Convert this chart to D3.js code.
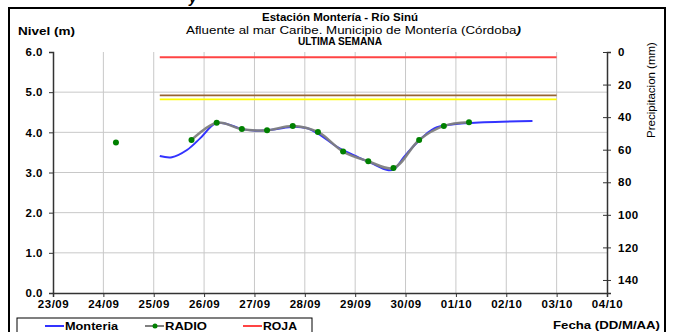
<!DOCTYPE html>
<html><head><meta charset="utf-8">
<script src="https://cdn.jsdelivr.net/npm/d3@7"></script>
<style>body{margin:0;background:#fff}svg{display:block}text{font-family:"Liberation Sans",Arial,sans-serif}</style>
</head><body><svg id="c" width="674" height="332"></svg>
<script>
// ---- data ----
const dateLabels = ["23/09","24/09","25/09","26/09","27/09","28/09","29/09","30/09","01/10","02/10","03/10","04/10"];
const levelTicks = [0,1,2,3,4,5,6];
const precipTicks = [0,20,40,60,80,100,120,140];
// Monteria level series (days since 23/09 00:00, metres)
const monteriaDays = [2.12,2.36,2.66,2.92,3.22,3.45,3.75,4.05,4.38,4.78,5.05,5.31,5.64,5.97,6.31,6.64,6.77,6.97,7.24,7.57,7.96,8.56,9.52];
const monteriaVals = [3.41,3.38,3.56,3.85,4.22,4.21,4.08,4.04,4.07,4.14,4.10,3.93,3.64,3.43,3.24,3.06,3.08,3.39,3.76,4.10,4.20,4.25,4.28];
// RADIO readings (null = no reading)
const radioDays = [1.25,1.75,2.25,2.75,3.25,3.75,4.25,4.76,5.26,5.76,6.26,6.76,7.27,7.76,8.26];
const radioVals = [3.75,null,null,3.81,4.24,4.08,4.05,4.16,4.01,3.52,3.28,3.11,3.81,4.16,4.25];
// threshold levels
const thresholdNames = ["ROJA","NARANJA","AMARILLA"];
const thresholdVals = [5.87,4.92,4.82];
const thresholdColors = ["#ff4444","#996633","#ffff00"];
const thresholdSpan = [2.12,10];

const svg = d3.select("#c");
const L=53,R=607,T=52,B=293;
const x = d3.scaleLinear().domain([0,11]).range([L,R]);
const y = d3.scaleLinear().domain([0,6]).range([B,T]);
const yp = d3.scaleLinear().domain([0,148]).range([T,B]);

// frame
svg.append("rect").attr("x",9).attr("y",8).attr("width",656).attr("height",340)
  .attr("fill","none").attr("stroke","#000").attr("stroke-width",2);
svg.append("text").attr("x",189).attr("y",3).attr("font-size",14).attr("font-weight","bold").attr("font-style","italic").text("y");

// titles
const tc=340;
svg.append("text").attr("x",tc).attr("y",21).attr("text-anchor","middle").attr("font-size",11.5).attr("font-weight","bold")
  .attr("textLength",156).attr("lengthAdjust","spacingAndGlyphs").text("Estación Montería  - Río Sinú");
const t2=svg.append("text").attr("x",186).attr("y",34).attr("font-size",11.5)
  .attr("textLength",335).attr("lengthAdjust","spacingAndGlyphs").text("Afluente al mar Caribe. Municipio de Montería (Córdoba");
t2.append("tspan").attr("font-style","italic").attr("font-weight","bold").text(")");
svg.append("text").attr("x",tc).attr("y",45).attr("text-anchor","middle").attr("font-size",11).attr("font-weight","bold")
  .attr("textLength",84).attr("lengthAdjust","spacingAndGlyphs").text("ULTIMA SEMANA");
svg.append("text").attr("x",18).attr("y",35).attr("font-size",11.5).attr("font-weight","bold")
  .attr("textLength",57).attr("lengthAdjust","spacingAndGlyphs").text("Nivel (m)");

// grid
const g = svg.append("g");
g.selectAll("line.v").data(d3.range(1,11)).enter().append("line")
  .attr("x1",d=>x(d)).attr("x2",d=>x(d)).attr("y1",T).attr("y2",B).attr("stroke","#c8c8c8").attr("stroke-width",1);
g.selectAll("line.h").data([1,2,3,4,5]).enter().append("line")
  .attr("x1",L).attr("x2",R).attr("y1",d=>y(d)).attr("y2",d=>y(d)).attr("stroke","#c8c8c8").attr("stroke-width",1);

// axes
const axL = d3.axisLeft(y).tickValues(levelTicks).tickFormat(d3.format(".1f")).tickSize(4).tickPadding(4);
const axB = d3.axisBottom(x).tickValues(d3.range(0,12)).tickFormat((d,i)=>dateLabels[i]).tickSize(4).tickPadding(3);
const axR = d3.axisRight(yp).tickValues(precipTicks).tickSize(4).tickPadding(7);
function style(sel){sel.select(".domain").attr("stroke","#333").attr("stroke-width",1.5);
  sel.selectAll(".tick line").attr("stroke","#333");
  sel.selectAll("text").attr("font-size",11.5).attr("font-weight","bold").attr("fill","#000")
    .style("letter-spacing","0.5px").style("font-family","Liberation Sans, Arial, sans-serif");}
svg.append("g").attr("transform",`translate(${L},0)`).call(axL).call(style).call(s=>s.selectAll("text").attr("dx",-2));
svg.append("g").attr("transform",`translate(0,${B})`).call(axB).call(style);
const gr = svg.append("g").attr("transform",`translate(${R},0)`).call(axR).call(style);
gr.selectAll(".tick line").attr("x1",-4);
svg.append("text").attr("transform","translate(655,90) rotate(-90)").attr("text-anchor","middle").attr("font-size",11.5).text("Precipitacion (mm)");

// thresholds
thresholdVals.forEach((v,i)=>{
  svg.append("line").attr("x1",x(thresholdSpan[0])).attr("x2",x(thresholdSpan[1]))
   .attr("y1",y(v)).attr("y2",y(v)).attr("stroke",thresholdColors[i]).attr("stroke-width",i==0?2:1.6);
});

// Monteria
const mon = monteriaDays.map((d,i)=>({d,v:monteriaVals[i]}));
svg.append("path").datum(mon).attr("fill","none").attr("stroke","#3333ff").attr("stroke-width",2)
  .attr("d",d3.line().x(p=>x(p.d)).y(p=>y(p.v)).curve(d3.curveCatmullRom));

// RADIO
const rad = radioDays.map((d,i)=>({d,v:radioVals[i]}));
svg.append("path").datum(rad).attr("fill","none").attr("stroke","#808080").attr("stroke-width",2.5).attr("opacity",0.95)
  .attr("d",d3.line().defined(p=>p.v!=null).x(p=>x(p.d)).y(p=>y(p.v)).curve(d3.curveCatmullRom));
svg.selectAll("circle.r").data(rad.filter(p=>p.v!=null)).enter().append("circle")
  .attr("cx",p=>x(p.d)).attr("cy",p=>y(p.v)).attr("r",3).attr("fill","#008000");

// x title
svg.append("text").attr("x",660).attr("y",329).attr("text-anchor","end").attr("font-size",11.5).attr("font-weight","bold")
  .attr("textLength",107).attr("lengthAdjust","spacingAndGlyphs").text("Fecha (DD/M/AA)");

// legend
svg.append("rect").attr("x",17).attr("y",318).attr("width",295).attr("height",30).attr("fill","#fff").attr("stroke","#000").attr("stroke-width",1);
const leg=[{n:"Monteria",c:"#3333ff",x:45,w:53,dot:false},{n:"RADIO",c:"#808080",x:145,w:42,dot:true},{n:"ROJA",c:"#ff4444",x:243,w:34,dot:false}];
leg.forEach(l=>{
  svg.append("line").attr("x1",l.x).attr("x2",l.x+19).attr("y1",326).attr("y2",326).attr("stroke",l.c).attr("stroke-width",2);
  if(l.dot) svg.append("circle").attr("cx",l.x+10).attr("cy",326).attr("r",2.5).attr("fill","#008000");
  svg.append("text").attr("x",l.x+20).attr("y",330).attr("font-size",11).attr("font-weight","bold")
    .attr("textLength",l.w).attr("lengthAdjust","spacingAndGlyphs").text(l.n);
});
</script></body></html>
